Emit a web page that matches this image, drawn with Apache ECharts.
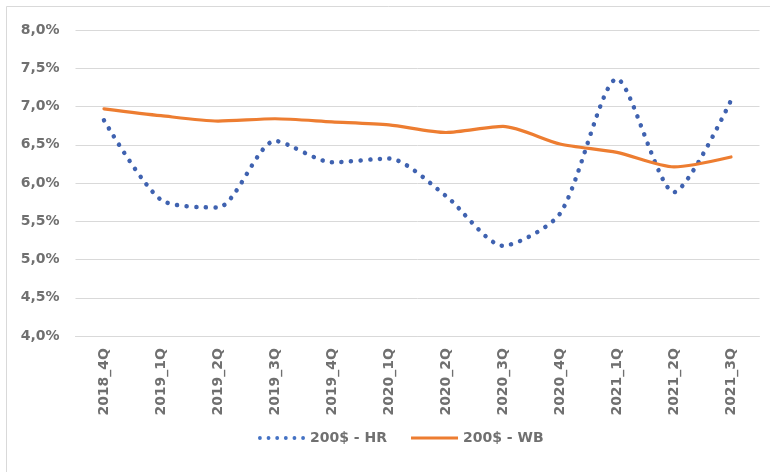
<!DOCTYPE html>
<html><head><meta charset="utf-8">
<script src="https://cdn.jsdelivr.net/npm/echarts@6/dist/echarts.min.js"></script>
<style>html,body{margin:0;padding:0;background:#fff}#c{width:770px;height:472px}</style>
</head><body><div id="c"></div>
<script>
const categories = ['2018_4Q','2019_1Q','2019_2Q','2019_3Q','2019_4Q','2020_1Q','2020_2Q','2020_3Q','2020_4Q','2021_1Q','2021_2Q','2021_3Q'];
const hrValues = [6.82, 5.78, 5.68, 6.55, 6.27, 6.32, 5.83, 5.18, 5.60, 7.36, 5.88, 7.08];
const wbValues = [6.97, 6.88, 6.81, 6.84, 6.80, 6.76, 6.66, 6.74, 6.51, 6.40, 6.21, 6.34];
const seriesNames = ['200$ - HR', '200$ - WB'];
const yTicks = { min: 4, max: 8, step: 0.5 };

const chart = echarts.init(document.getElementById('c'));
const font = 'DejaVu Sans, sans-serif';
const dot = (x) => `M${x},5 a2,2 0 1,0 4,0 a2,2 0 1,0 -4,0 `;
chart.setOption({
  animation: false,
  backgroundColor: '#fff',
  graphic: [{ type: 'rect', shape: { x: 6.5, y: 6.5, width: 770, height: 472 }, style: { fill: 'none', stroke: '#d9d9d9', lineWidth: 1 } }],
  grid: { left: 75.5, right: 10.5, top: 30, bottom: 136 },
  legend: {
    bottom: 22, left: 253, itemWidth: 47, itemHeight: 10, itemGap: 24,
    textStyle: { fontFamily: font, fontSize: 14, fontWeight: 'bold', color: '#707070' },
    data: [
      { name: seriesNames[0], icon: 'path://' + [0, 9, 18, 27, 36, 45].map(dot).join('') },
      { name: seriesNames[1], icon: 'path://M0,3.5 L47,3.5 L47,6.5 L0,6.5 Z' }
    ]
  },
  xAxis: {
    type: 'category', data: categories, boundaryGap: true,
    axisLine: { lineStyle: { color: '#d9d9d9', width: 1 } },
    axisTick: { show: false },
    axisLabel: { rotate: 90, margin: 12, fontFamily: font, fontSize: 14, fontWeight: 'bold', color: '#707070' }
  },
  yAxis: {
    type: 'value', min: yTicks.min, max: yTicks.max, interval: yTicks.step,
    axisLine: { show: false }, axisTick: { show: false },
    splitLine: { lineStyle: { color: '#d9d9d9', width: 1 } },
    axisLabel: { margin: 16, fontFamily: font, fontSize: 14, fontWeight: 'bold', color: '#707070',
      formatter: v => v.toFixed(1).replace('.', ',') + '%' }
  },
  series: [
    { name: seriesNames[0], type: 'line', data: hrValues, smooth: 0.25, symbol: 'none',
      itemStyle: { color: '#4472C4' },
      lineStyle: { color: '#3f62b0', width: 4.5, type: [0.1, 9.5], cap: 'round' } },
    { name: seriesNames[1], type: 'line', data: wbValues, smooth: 0.25, symbol: 'none',
      itemStyle: { color: '#ED7D31' },
      lineStyle: { color: '#ED7D31', width: 3.2, cap: 'round' } }
  ]
});
</script></body></html>
